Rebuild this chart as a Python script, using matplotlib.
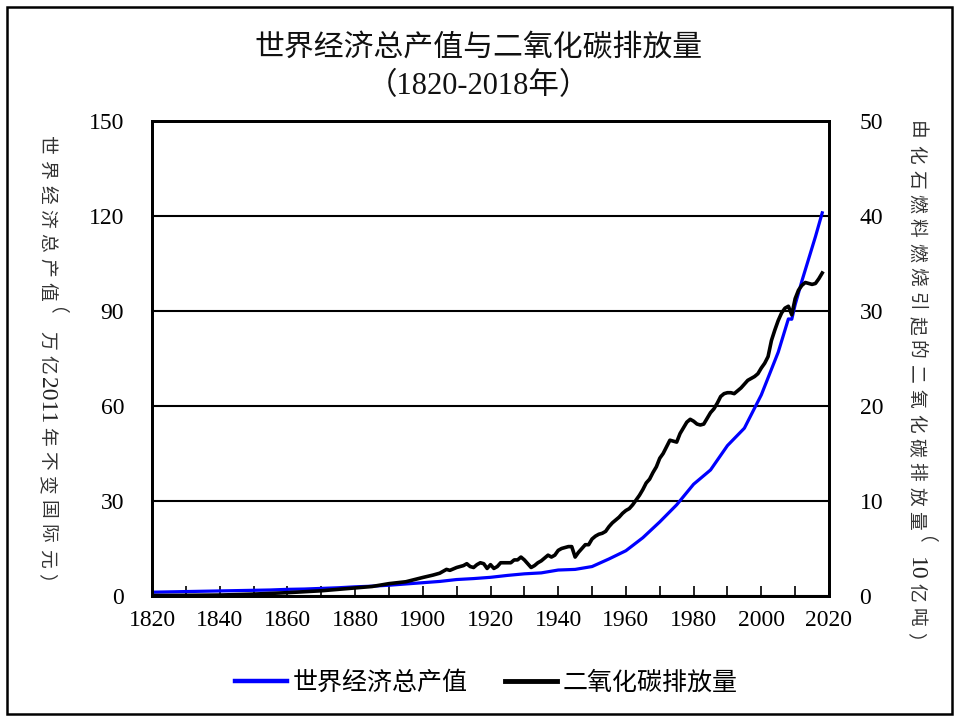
import matplotlib
matplotlib.use('Agg')
import matplotlib.pyplot as plt
from matplotlib.lines import Line2D
from matplotlib.patches import Rectangle

plt.rcParams['font.family'] = ['Liberation Serif', 'Noto Sans CJK SC', 'DejaVu Sans']

# 世界经济总产值 (万亿2011年不变国际元)
gdp_years = [1820, 1825, 1830, 1835, 1840, 1845, 1850, 1855, 1860, 1865, 1870, 1875,
             1880, 1885, 1890, 1895, 1900, 1905, 1910, 1915, 1920, 1925, 1930, 1935,
             1940, 1945, 1950, 1955, 1960, 1965, 1970, 1975, 1980, 1985, 1990, 1995,
             2000, 2005, 2008, 2009, 2010, 2012, 2014, 2016, 2018]
gdp = [1.2, 1.3, 1.4, 1.5, 1.6, 1.7, 1.8, 1.9, 2.1, 2.2, 2.4, 2.6,
       2.9, 3.1, 3.4, 3.8, 4.2, 4.6, 5.2, 5.5, 5.9, 6.5, 7.0, 7.3,
       8.2, 8.4, 9.3, 11.7, 14.3, 18.4, 23.4, 28.8, 35.3, 39.8, 47.5, 53.0,
       63.5, 77.0, 87.5, 87.4, 92.0, 99.5, 106.5, 113.5, 121.0]

# 二氧化碳排放量 (10亿吨)
co2_years = [1820, 1830, 1840, 1850, 1860, 1865, 1870, 1875, 1880, 1885, 1890, 1895,
             1900, 1903, 1905, 1907, 1908, 1910, 1912, 1913, 1914, 1915, 1916, 1917,
             1918, 1919, 1920, 1921, 1922, 1923, 1924, 1925, 1926, 1927, 1928, 1929,
             1930, 1931, 1932, 1933, 1934, 1935, 1936, 1937, 1938, 1939, 1940, 1941,
             1942, 1943, 1944, 1945, 1946, 1947, 1948, 1949, 1950, 1951, 1952, 1953,
             1954, 1955, 1956, 1957, 1958, 1959, 1960, 1961, 1962, 1963, 1964, 1965,
             1966, 1967, 1968, 1969, 1970, 1971, 1972, 1973, 1974, 1975, 1976, 1977,
             1978, 1979, 1980, 1981, 1982, 1983, 1984, 1985, 1986, 1987, 1988, 1989,
             1990, 1991, 1992, 1993, 1994, 1995, 1996, 1997, 1998, 1999, 2000, 2001,
             2002, 2003, 2004, 2005, 2006, 2007, 2008, 2009, 2010, 2011, 2012, 2013,
             2014, 2015, 2016, 2017, 2018]
co2 = [0.05, 0.07, 0.1, 0.2, 0.35, 0.45, 0.55, 0.7, 0.85, 1.0, 1.3, 1.5,
       1.95, 2.2, 2.4, 2.8, 2.7, 3.0, 3.2, 3.4, 3.1, 3.0, 3.3, 3.5,
       3.4, 2.9, 3.3, 2.9, 3.1, 3.5, 3.5, 3.5, 3.5, 3.8, 3.8, 4.1,
       3.8, 3.4, 3.0, 3.2, 3.5, 3.7, 4.0, 4.3, 4.1, 4.3, 4.8, 5.0,
       5.1, 5.2, 5.2, 4.1, 4.6, 5.0, 5.4, 5.4, 6.0, 6.3, 6.5, 6.6,
       6.8, 7.3, 7.7, 8.0, 8.3, 8.7, 9.0, 9.2, 9.6, 10.1, 10.6, 11.2,
       11.9, 12.3, 13.0, 13.6, 14.5, 15.0, 15.7, 16.4, 16.3, 16.2, 17.1, 17.7,
       18.3, 18.6, 18.4, 18.1, 18.0, 18.1, 18.7, 19.3, 19.7, 20.3, 21.0, 21.3,
       21.4, 21.4, 21.3, 21.6, 21.9, 22.3, 22.7, 22.9, 23.1, 23.4, 24.0, 24.5,
       25.2, 26.9, 28.0, 29.0, 29.8, 30.3, 30.5, 29.6, 31.3, 32.2, 32.7, 33.0,
       32.9, 32.8, 32.9, 33.4, 34.0]

title = '世界经济总产值与二氧化碳排放量'
subtitle = '（1820-2018年）'
left_label = '世界经济总产值（万亿2011年不变国际元）'
right_label = '由化石燃料燃烧引起的二氧化碳排放量（10亿吨）'
gdp_name = '世界经济总产值'
co2_name = '二氧化碳排放量'

W, H = 957, 717
fig = plt.figure(figsize=(W / 100, H / 100), dpi=100)


def fx(x):
    return x / W


def fy(y):
    return 1 - y / H


# outer frame
fig.patches.append(Rectangle((fx(7), fy(714)), fx(945), 707 / H, transform=fig.transFigure,
                             fill=False, edgecolor='black', lw=1.8))

ax = fig.add_axes([fx(152), fy(596), fx(677), 475 / H])
ax.plot(gdp_years, gdp, color='#0000ff', lw=2.3)
ax.set_xlim(1820, 2020)
ax.set_ylim(0, 150)
ax.set_yticks([0, 30, 60, 90, 120, 150])
ax.set_xticks(range(1820, 2021, 20))
ax.set_xticks(range(1830, 2020, 20), minor=True)
ax.grid(axis='y', color='black', lw=1.5)
ax.set_axisbelow(True)
ax.tick_params(axis='y', length=0, labelsize=17, pad=20)
ax.tick_params(axis='x', which='both', direction='in', length=7, width=1.2,
               labelsize=17, pad=10)

ax2 = ax.twinx()
ax2.plot(co2_years, co2, color='black', lw=2.6)
ax2.set_ylim(0, 50)
ax2.set_yticks([0, 10, 20, 30, 40, 50])
ax2.tick_params(axis='y', length=0, labelsize=17, pad=22)

for a in (ax, ax2):
    for s in a.spines.values():
        s.set_linewidth(2)
        s.set_color('black')

fig.text(0.5, fy(48), title, ha='center', va='center', fontsize=21.5, color='#111111')
fig.text(0.5, fy(87), subtitle, ha='center', va='center', fontsize=22, color='#111111')


def vtext(x, top, s, step=24.4, size=13.5):
    # sideways label, laid out glyph by glyph to keep the narrow look
    y = top
    i = 0
    while i < len(s):
        ch = s[i]
        if ch.isascii():
            j = i
            while j < len(s) and s[j].isascii():
                j += 1
            run = s[i:j]
            h = 11.7 * len(run)
            fig.text(fx(x), fy(y + h / 2), run, rotation=-90, ha='center', va='center',
                     fontsize=17, color='#222222')
            y += h
            i = j
            continue
        fig.text(fx(x), fy(y + step / 2), ch, rotation=-90, ha='center', va='center',
                 fontsize=size, color='#333333')
        y += step
        i += 1


vtext(46, 133, left_label)
vtext(915, 118, right_label)

handles = [Line2D([], [], color='#0000ff', lw=3.2), Line2D([], [], color='black', lw=3.5)]
fig.legend(handles, [gdp_name, co2_name], loc='center', bbox_to_anchor=(fx(486), fy(683)),
           ncol=2, frameon=False, fontsize=18, handlelength=2.1, handletextpad=0.2,
           columnspacing=1.5)

fig.savefig('out.png', dpi=100)
